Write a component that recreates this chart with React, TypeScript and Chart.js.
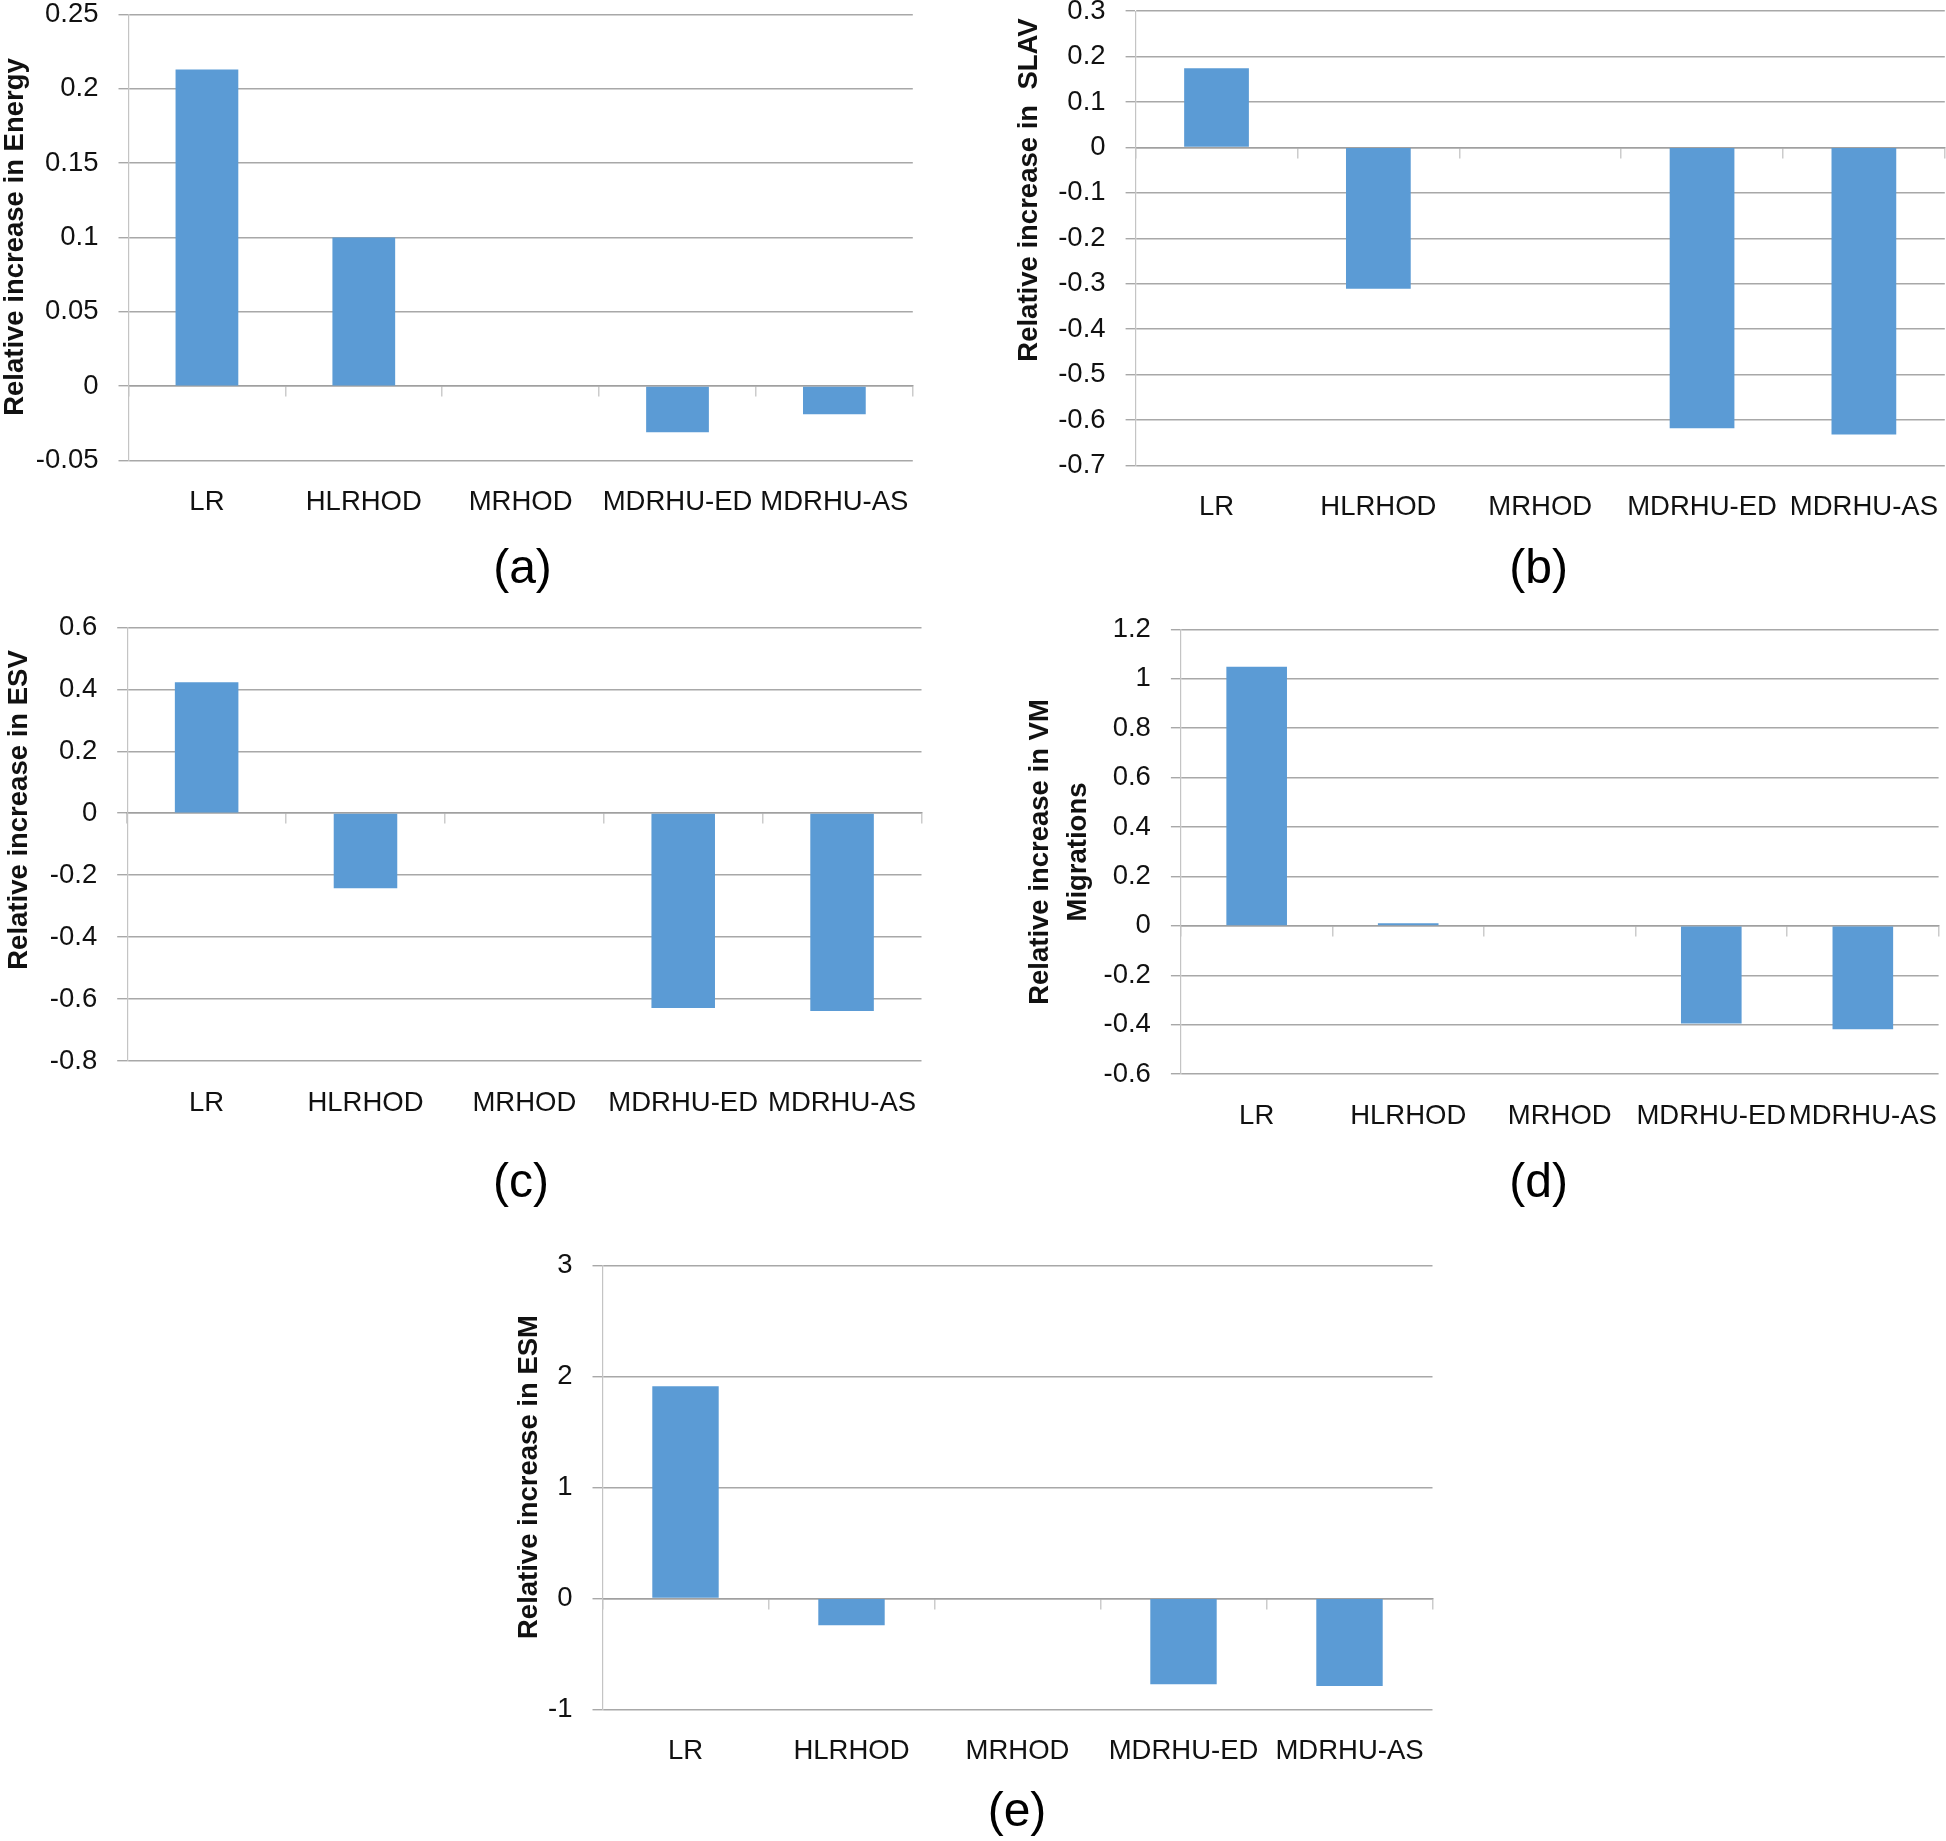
import React, { useEffect, useRef } from 'react';
import { Chart, registerables } from 'chart.js';

Chart.register(...registerables);

// ---------------- data ----------------
const categories = ['LR', 'HLRHOD', 'MRHOD', 'MDRHU-ED', 'MDRHU-AS'];

const energyValues = [0.213, 0.1, 0, -0.031, -0.019];
const energyTicks = [-0.05, 0, 0.05, 0.1, 0.15, 0.2, 0.25];

const slavValues = [0.174, -0.311, 0, -0.618, -0.632];
const slavTicks = [-0.7, -0.6, -0.5, -0.4, -0.3, -0.2, -0.1, 0, 0.1, 0.2, 0.3];

const esvValues = [0.423, -0.242, 0, -0.629, -0.639];
const esvTicks = [-0.8, -0.6, -0.4, -0.2, 0, 0.2, 0.4, 0.6];

const vmValues = [1.048, 0.01, 0, -0.395, -0.418];
const vmTicks = [-0.6, -0.4, -0.2, 0, 0.2, 0.4, 0.6, 0.8, 1, 1.2];

const esmValues = [1.912, -0.242, 0, -0.775, -0.79];
const esmTicks = [-1, 0, 1, 2, 3];

const energyTitle = ['Relative increase in Energy'];
const slavTitle = ['Relative increase in  SLAV'];
const esvTitle = ['Relative increase in ESV'];
const vmTitle = ['Relative increase in VM', 'Migrations'];
const esmTitle = ['Relative increase in ESM'];

// ---------------- styles ----------------
const FONT = "'Liberation Sans', Arial, Helvetica, sans-serif";
const BAR = '#5b9bd5';
const GRID = '#a8a8a8';
const AXIS = '#c4c4c4';
const ZERO = '#a0a0a0';
const TICKMARK = '#cccccc';
const TEXT = '#111111';

type Box = { left: number; right: number; top: number; bottom: number };
type PanelSpec = {
  values: number[];
  ticks: number[];
  titleLines: string[];
  caption: string;
  plot: Box;
  titleBaselines: number[];
  titleY: number;
  captionX: number;
  captionY: number;
};

const panels: PanelSpec[] = [
  {
    values: energyValues, ticks: energyTicks, titleLines: energyTitle, caption: '(a)',
    plot: { left: 128.5, right: 912.8, top: 14.5, bottom: 460.4 },
    titleBaselines: [22.5], titleY: 237, captionX: 522.5, captionY: 583,
  },
  {
    values: slavValues, ticks: slavTicks, titleLines: slavTitle, caption: '(b)',
    plot: { left: 1135.6, right: 1944.8, top: 11.1, bottom: 465.4 },
    titleBaselines: [1037], titleY: 190, captionX: 1538.6, captionY: 583,
  },
  {
    values: esvValues, ticks: esvTicks, titleLines: esvTitle, caption: '(c)',
    plot: { left: 127.2, right: 921.5, top: 627.3, bottom: 1061 },
    titleBaselines: [26.5], titleY: 810, captionX: 521, captionY: 1197,
  },
  {
    values: vmValues, ticks: vmTicks, titleLines: vmTitle, caption: '(d)',
    plot: { left: 1180.9, right: 1938.6, top: 629.3, bottom: 1074.1 },
    titleBaselines: [1048, 1085.5], titleY: 852, captionX: 1538.6, captionY: 1197,
  },
  {
    values: esmValues, ticks: esmTicks, titleLines: esmTitle, caption: '(e)',
    plot: { left: 602.5, right: 1432.5, top: 1265.5, bottom: 1709.3 },
    titleBaselines: [536.5], titleY: 1477, captionX: 1017, captionY: 1826,
  },
];

function makeTextPlugin(spec: PanelSpec, originX: number, originY: number) {
  return {
    id: 'panelText',
    afterDraw(chart: any) {
      const ctx = chart.ctx as CanvasRenderingContext2D;
      ctx.save();
      ctx.fillStyle = TEXT;
      ctx.font = `bold 27.5px ${FONT}`;
      ctx.textAlign = 'center';
      ctx.textBaseline = 'alphabetic';
      spec.titleLines.forEach((line, i) => {
        ctx.save();
        ctx.translate(spec.titleBaselines[i] - originX, spec.titleY - originY);
        ctx.rotate(-Math.PI / 2);
        ctx.fillText(line, 0, 0);
        ctx.restore();
      });
      ctx.fillStyle = '#000';
      ctx.font = `48px ${FONT}`;
      ctx.fillText(spec.caption, spec.captionX - originX, spec.captionY - originY);
      ctx.restore();
    },
  };
}

function Panel({ spec }: { spec: PanelSpec }) {
  const ref = useRef<HTMLCanvasElement | null>(null);
  const cl = Math.floor(Math.min(...spec.titleBaselines) - 60);
  const ct = Math.floor(spec.plot.top - 40);
  const cr = Math.ceil(spec.plot.right + 30);
  const cb = Math.ceil(Math.max(spec.captionY + 30, spec.plot.bottom + 100));
  const w = cr - cl;
  const h = cb - ct;

  useEffect(() => {
    const canvas = ref.current;
    if (!canvas) return;
    const YW = 100;
    const XH = 60;
    const tickFont = { family: FONT, size: 27.5 };
    const chart = new Chart(canvas, {
      type: 'bar',
      data: {
        labels: categories,
        datasets: [
          {
            data: spec.values,
            backgroundColor: BAR,
            borderWidth: 0,
            barPercentage: 0.4,
            categoryPercentage: 1,
          },
        ],
      },
      options: {
        animation: false,
        responsive: false,
        devicePixelRatio: 1,
        layout: {
          padding: {
            left: spec.plot.left - cl - YW,
            top: spec.plot.top - ct,
            right: cr - spec.plot.right,
            bottom: cb - spec.plot.bottom - XH,
          },
        },
        plugins: {
          legend: { display: false },
          tooltip: { enabled: false },
          title: { display: false },
        },
        scales: {
          x: {
            type: 'category',
            position: 'bottom',
            offset: true,
            grid: { display: false },
            border: { display: false },
            ticks: {
              autoSkip: false,
              maxRotation: 0,
              minRotation: 0,
              padding: 18,
              color: TEXT,
              font: tickFont,
            },
            afterFit: (scale: any) => {
              scale.height = XH;
            },
          },
          xz: {
            type: 'category',
            axis: 'x',
            position: { y: 0 },
            offset: true,
            grid: {
              offset: true,
              drawOnChartArea: false,
              drawTicks: true,
              tickLength: 10,
              color: TICKMARK,
              lineWidth: 1.5,
            },
            border: { display: true, color: ZERO, width: 1.5 },
            ticks: { display: false },
          },
          y: {
            type: 'linear',
            position: 'left',
            min: spec.ticks[0],
            max: spec.ticks[spec.ticks.length - 1],
            afterBuildTicks: (scale: any) => {
              scale.ticks = spec.ticks.map((value) => ({ value }));
            },
            grid: {
              color: GRID,
              lineWidth: 1.4,
              drawTicks: true,
              tickLength: 10,
            },
            border: { display: true, color: AXIS, width: 1.2 },
            ticks: {
              padding: 20,
              color: TEXT,
              font: tickFont,
              callback: (v: any) => String(v),
            },
            afterFit: (scale: any) => {
              scale.width = YW;
            },
          },
        },
      } as any,
      plugins: [makeTextPlugin(spec, cl, ct)],
    });
    return () => chart.destroy();
  }, []);

  return (
    <canvas
      ref={ref}
      width={w}
      height={h}
      style={{ position: 'absolute', left: cl, top: ct, width: w, height: h }}
    />
  );
}

export default function App() {
  return (
    <div
      style={{
        position: 'absolute',
        left: 0,
        top: 0,
        width: 1946,
        height: 1841,
        overflow: 'hidden',
        background: '#ffffff',
      }}
    >
      {panels.map((p, i) => (
        <Panel key={i} spec={p} />
      ))}
    </div>
  );
}
